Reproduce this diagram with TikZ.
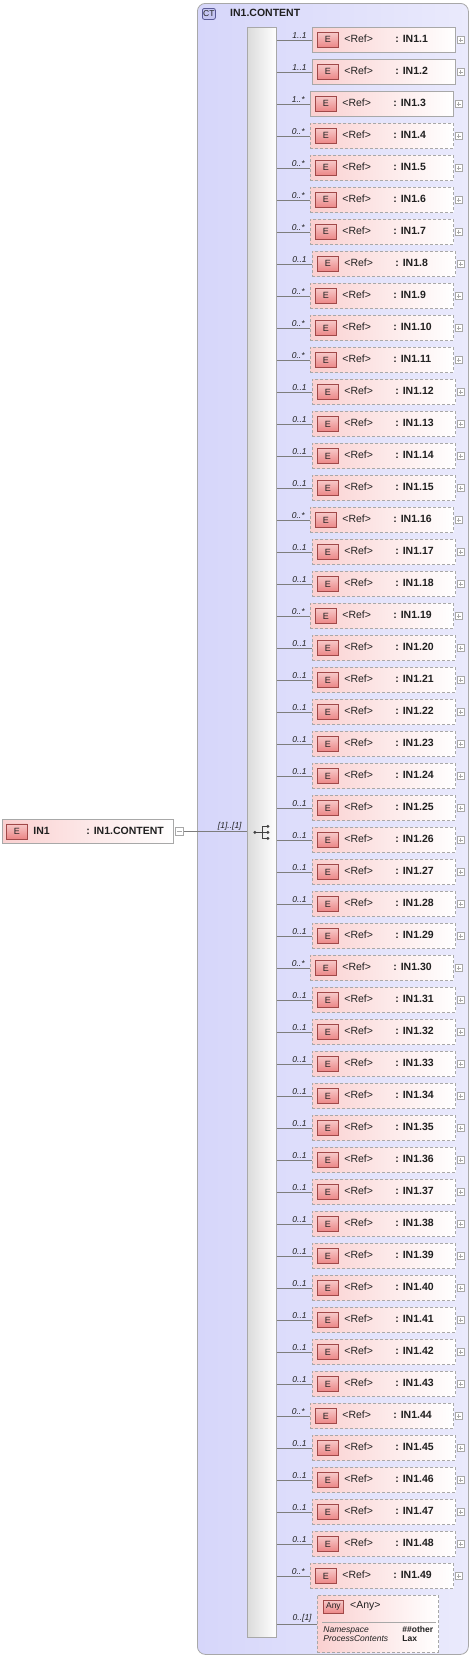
\documentclass[tikz,border=0pt]{standalone}
\usepackage{fontspec}
\setmainfont{Liberation Sans}
\usetikzlibrary{positioning}
\definecolor{ctlav}{RGB}{214,214,250}
\definecolor{ctlavlight}{RGB}{234,234,252}
\definecolor{ctbadgefill}{RGB}{198,198,242}
\definecolor{ctline}{RGB}{90,90,150}
\definecolor{elpink}{RGB}{250,208,208}
\definecolor{badgered}{RGB}{236,134,134}
\definecolor{badgeline}{RGB}{160,72,72}
\definecolor{framegray}{RGB}{168,168,168}
\definecolor{wiregray}{RGB}{125,125,125}
\definecolor{txtdark}{RGB}{32,32,32}

\begin{document}
\begin{tikzpicture}[
    x=1pt, y=-1pt,
    line width=0.8pt,
    every node/.style={text=txtdark},
    ctbox/.style={draw=framegray, rounded corners=8pt, left color=ctlav, right color=ctlavlight, minimum width=271pt, minimum height=1651pt, anchor=north west, inner sep=0pt},
    ctbadge/.style={draw=ctline, fill=ctbadgefill, rounded corners=2pt, minimum width=13pt, minimum height=11pt, inner sep=0pt, font=\fontsize{8.5}{9}\selectfont},
    seqbar/.style={draw=framegray, left color=gray!28, right color=white, minimum width=29pt, minimum height=1610pt, anchor=north west, inner sep=0pt},
    req/.style={draw=framegray, left color=elpink, right color=white, minimum width=143pt, minimum height=25pt, anchor=north west, inner sep=0pt},
    reqmany/.style={req, xshift=-2pt},
    opt/.style={req, dash pattern=on 3pt off 2pt},
    optmany/.style={opt, xshift=-2pt},
    ebadge/.style={draw=badgeline, top color=badgered!45, bottom color=badgered, minimum width=21pt, minimum height=15pt, inner sep=0pt, font=\fontsize{9}{9}\selectfont},
    reftext/.style={inner sep=0pt, yshift=1pt, font=\fontsize{10.5}{12}\selectfont},
    nametext/.style={inner sep=0pt, yshift=1pt, font=\fontsize{10.5}{12}\selectfont\bfseries},
    proptext/.style={inner sep=0pt, font=\fontsize{8.5}{9}\selectfont\itshape},
    propval/.style={inner sep=0pt, font=\fontsize{8.5}{9}\selectfont\bfseries},
    mult/.style={inner sep=1pt, xshift=-4pt, font=\fontsize{8.5}{9}\selectfont\itshape},
    wire/.style={draw=wiregray},
    plusbox/.style={draw=framegray, fill=white, minimum size=7pt, inner sep=0pt,
        path picture={\draw[framegray, line width=0.6pt] ([xshift=1.5pt]path picture bounding box.west) -- ([xshift=-1.5pt]path picture bounding box.east)
            ([yshift=-1.5pt]path picture bounding box.north) -- ([yshift=1.5pt]path picture bounding box.south);}},
    minusbox/.style={draw=framegray, fill=white, minimum size=8pt, inner sep=0pt,
        path picture={\draw[framegray, line width=0.6pt] ([xshift=1.5pt]path picture bounding box.west) -- ([xshift=-1.5pt]path picture bounding box.east);}}
]
\useasboundingbox[fill=white] (0,0) rectangle (473,1665);

% Complex type frame
\node[ctbox] (content) at (197,3) {};
\node[ctbadge, anchor=north west] (ctb) at (202,8) {CT};
\node[nametext, right=14pt of ctb] (cttitle) {IN1.CONTENT};

% Sequence
\node[seqbar] (seq) at (247,27) {};
\begin{scope}[shift={(seq.center)}]
  \draw[txtdark!85, line width=0.7pt] (-7,0) -- (0,0) (0,-6) -- (0,6);
  \foreach \yy in {-6,0,6} {
    \draw[txtdark!85, line width=0.7pt] (0,\yy) -- (6,\yy);
    \fill[txtdark!85] (6,\yy) circle (1.6pt);
  }
  \fill[txtdark!85] (-7,0) circle (1.6pt);
\end{scope}

% Root element
\node[req, minimum width=171pt, minimum height=24pt] (in1) at (2,819) {};
\node[ebadge, right=4pt of in1.west] (in1b) {E};
\node[nametext, right=31pt of in1.west] (in1n) {IN1};
\node[nametext, right=84pt of in1.west] (in1t) {: IN1.CONTENT};
\node[minusbox, right=1pt of in1.east] (in1m) {};
\draw[wire] (in1m.east) -- (seq.west |- in1m.east) node[mult, pos=1, anchor=south east] {[1]..[1]};

% Child elements
\foreach \m/\s [count=\i] in {1..1/req, 1..1/req, 1..*/reqmany, 0..*/optmany, 0..*/optmany, 0..*/optmany, 0..*/optmany,
    0..1/opt, 0..*/optmany, 0..*/optmany, 0..*/optmany, 0..1/opt, 0..1/opt, 0..1/opt, 0..1/opt, 0..*/optmany,
    0..1/opt, 0..1/opt, 0..*/optmany, 0..1/opt, 0..1/opt, 0..1/opt, 0..1/opt, 0..1/opt, 0..1/opt, 0..1/opt,
    0..1/opt, 0..1/opt, 0..1/opt, 0..*/optmany, 0..1/opt, 0..1/opt, 0..1/opt, 0..1/opt, 0..1/opt, 0..1/opt,
    0..1/opt, 0..1/opt, 0..1/opt, 0..1/opt, 0..1/opt, 0..1/opt, 0..1/opt, 0..*/optmany, 0..1/opt, 0..1/opt,
    0..1/opt, 0..1/opt, 0..*/optmany} {
  \pgfmathsetmacro\ytop{27+32*(\i-1)}
  \node[\s] (e\i) at (312,\ytop) {};
  \node[ebadge, right=5pt of e\i.west] (b\i) {E};
  \node[reftext, right=32pt of e\i.west] (r\i) {<Ref>};
  \node[nametext, right=83pt of e\i.west] (n\i) {: IN1.\i};
  \node[plusbox, right=1pt of e\i.east] (p\i) {};
  \draw[wire] (seq.east |- e\i.west) -- (e\i.west) node[mult, pos=1, anchor=south east] {\m};
}

% Any
\node[opt, minimum width=121pt, minimum height=57pt] (any) at (317,1595) {};
\node[ebadge, anchor=north west, minimum width=20pt, minimum height=13pt, font=\fontsize{8.5}{9}\selectfont] (anyb) at ([xshift=6pt,yshift=-5pt]any.north west) {Any};
\node[reftext, right=6pt of anyb] (anyn) {<Any>};
\draw[framegray] ([xshift=5pt,yshift=-27pt]any.north west) -- ([xshift=-3pt,yshift=-27pt]any.north east);
\node[proptext, anchor=base west] (anyns) at (323,1632) {Namespace};
\node[propval, anchor=base west] (anynsv) at (402,1632) {\#\#other};
\node[proptext, anchor=base west] (anypc) at (323,1641) {ProcessContents};
\node[propval, anchor=base west] (anypcv) at (402,1641) {Lax};
\draw[wire] (seq.east |- any.west) -- (any.west) node[mult, pos=1, anchor=south east] {0..[1]};

\end{tikzpicture}
\end{document}
